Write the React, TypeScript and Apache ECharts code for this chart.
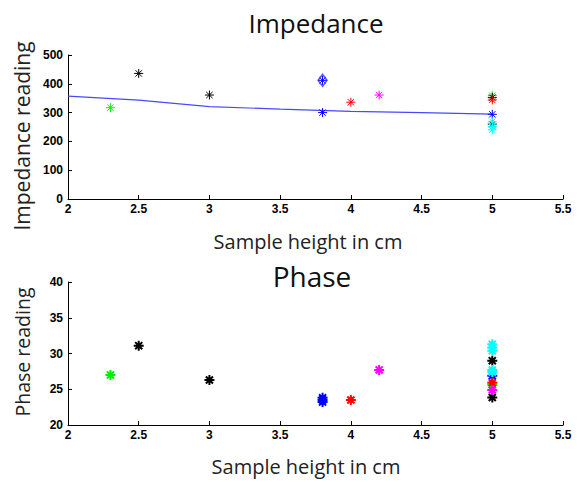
import React, { useEffect, useRef } from "react";
import * as echarts from "echarts";

// Impedance chart data [sample height cm, reading]
const impGreen = [[2.3, 317], [5, 359]];
const impBlack = [[2.5, 436], [3, 361], [5, 352], [5, 260]];
const impBlue = [[3.8, 412], [3.8, 300], [5, 294]];
const impBlueDiamond = [[3.8, 412]];
const impRed = [[4, 336], [5, 344]];
const impMagenta = [[4.2, 361]];
const impCyan = [[5, 268], [5, 252], [5, 240]];
const impFit = [[2, 357], [2.5, 343], [3, 321], [3.5, 312], [4, 304], [4.5, 300], [5, 295]];

// Phase chart data
const phGreen = [[2.3, 27.0], [5, 25.6]];
const phBlack = [[2.5, 31.1], [3, 26.3], [5, 29.0], [5, 23.85]];
const phBlue = [[3.8, 23.2], [3.8, 23.5], [3.8, 23.8], [5, 26.9]];
const phRed = [[4, 23.5], [5, 25.9]];
const phMagenta = [[4.2, 27.7], [5, 24.9]];
const phCyan = [[5, 31.3], [5, 30.8], [5, 30.4], [5, 27.7], [5, 27.4]];

const xTicks = [2, 2.5, 3, 3.5, 4, 4.5, 5, 5.5];
const impYTicks = [0, 100, 200, 300, 400, 500];
const phYTicks = [20, 25, 30, 35, 40];

const xName = "Sample height in cm";
const impYName = "Impedance reading";
const phYName = "Phase reading";

const ASTER = "path://M0,-10L0,10M-10,0L10,0M-7.07,-7.07L7.07,7.07M-7.07,7.07L7.07,-7.07";

const titleFont = "'Open Sans', 'Noto Sans', sans-serif";
const tickFont = "'Liberation Sans', Arial, sans-serif";

function starSeries(data: number[][], color: string, xi: number, size: number, bw: number) {
  return {
    type: "scatter",
    xAxisIndex: xi,
    yAxisIndex: xi,
    data,
    symbol: ASTER,
    symbolSize: size,
    itemStyle: { color: "none", borderColor: color, borderWidth: bw, opacity: 1 },
    z: 3,
  };
}

export default function App() {
  const ref = useRef<HTMLDivElement>(null);
  useEffect(() => {
    if (!ref.current) return;
    const chart = echarts.init(ref.current, null, { renderer: "svg" });
    const xAxisBase = (gi: number) => ({
      type: "value",
      gridIndex: gi,
      min: 2,
      max: 5.5,
      interval: 0.5,
      axisLine: { show: true, lineStyle: { color: "#000", width: 1 } },
      axisTick: { show: true, inside: true, length: 4, lineStyle: { color: "#000" } },
      axisLabel: {
        fontFamily: tickFont,
        fontWeight: "bold",
        fontSize: 12,
        color: "#000",
        margin: 4,
        formatter: (v: number) => (xTicks.includes(v) ? String(v) : ""),
      },
      splitLine: { show: false },
    });
    const yAxisBase = (gi: number, min: number, max: number, interval: number, ticks: number[]) => ({
      type: "value",
      gridIndex: gi,
      min,
      max,
      interval,
      axisLine: { show: true, lineStyle: { color: "#000", width: 1 } },
      axisTick: { show: true, inside: true, length: 4, lineStyle: { color: "#000" } },
      axisLabel: {
        fontFamily: tickFont,
        fontWeight: "bold",
        fontSize: 12,
        color: "#000",
        margin: 5,
        formatter: (v: number) => (ticks.includes(v) ? String(v) : ""),
      },
      splitLine: { show: false },
    });
    const nameText = (text: string, x: number, y: number, size: number, rot: number) => ({
      type: "text",
      x,
      y,
      rotation: rot,
      style: {
        text,
        fontFamily: titleFont,
        fontSize: size,
        fill: "#222",
        textAlign: "center",
        textVerticalAlign: "middle",
      },
    });
    chart.setOption({
      animation: false,
      backgroundColor: "#fff",
      title: [
        {
          text: "Impedance",
          left: 311,
          top: 5,
          textAlign: "center",
          textStyle: { fontFamily: titleFont, fontSize: 26, fontWeight: "normal", color: "#111" },
        },
        {
          text: "Phase",
          left: 307,
          top: 257,
          textAlign: "center",
          textStyle: { fontFamily: titleFont, fontSize: 28, fontWeight: "normal", color: "#111" },
        },
      ],
      grid: [
        { left: 68, top: 55, width: 495, height: 144, outerBoundsMode: "none", containLabel: false },
        { left: 68, top: 282, width: 495, height: 143, outerBoundsMode: "none", containLabel: false },
      ],
      xAxis: [xAxisBase(0), xAxisBase(1)],
      yAxis: [yAxisBase(0, 0, 500, 100, impYTicks), yAxisBase(1, 20, 40, 5, phYTicks)],
      graphic: [
        nameText(xName, 308, 241, 20, 0),
        nameText(xName, 306, 466, 20, 0),
        nameText(impYName, 22, 136, 21, Math.PI / 2),
        nameText(phYName, 22, 352, 19.5, Math.PI / 2),
      ],
      series: [
        {
          type: "line",
          xAxisIndex: 0,
          yAxisIndex: 0,
          data: impFit,
          symbol: "none",
          lineStyle: { color: "#4848ff", width: 1.2 },
          z: 2,
        },
        starSeries(impGreen, "#00ee00", 0, 9, 1),
        starSeries(impBlack, "#000000", 0, 9, 1),
        starSeries(impBlue, "#0000ff", 0, 9, 1),
        {
          type: "scatter",
          xAxisIndex: 0,
          yAxisIndex: 0,
          data: impBlueDiamond,
          symbol: "diamond",
          symbolSize: [9, 12],
          itemStyle: { color: "none", borderColor: "#2a2aff", borderWidth: 1.5 },
          z: 3,
        },
        starSeries(impRed, "#ff0000", 0, 9, 1),
        starSeries(impMagenta, "#ff00ff", 0, 9, 1),
        starSeries(impCyan, "#00ffff", 0, 9, 1),
        starSeries(phGreen, "#00ee00", 1, 10, 2),
        starSeries(phBlack, "#000000", 1, 10, 2),
        starSeries(phBlue, "#0000ff", 1, 10, 2),
        starSeries(phRed, "#ff0000", 1, 10, 2),
        starSeries(phMagenta, "#ff00ff", 1, 10, 2),
        starSeries(phCyan, "#00ffff", 1, 10, 2),
      ],
    });
    return () => chart.dispose();
  }, []);
  return (
    <div
      ref={ref}
      style={{ position: "fixed", left: 0, top: 0, width: 577, height: 482 }}
    />
  );
}
